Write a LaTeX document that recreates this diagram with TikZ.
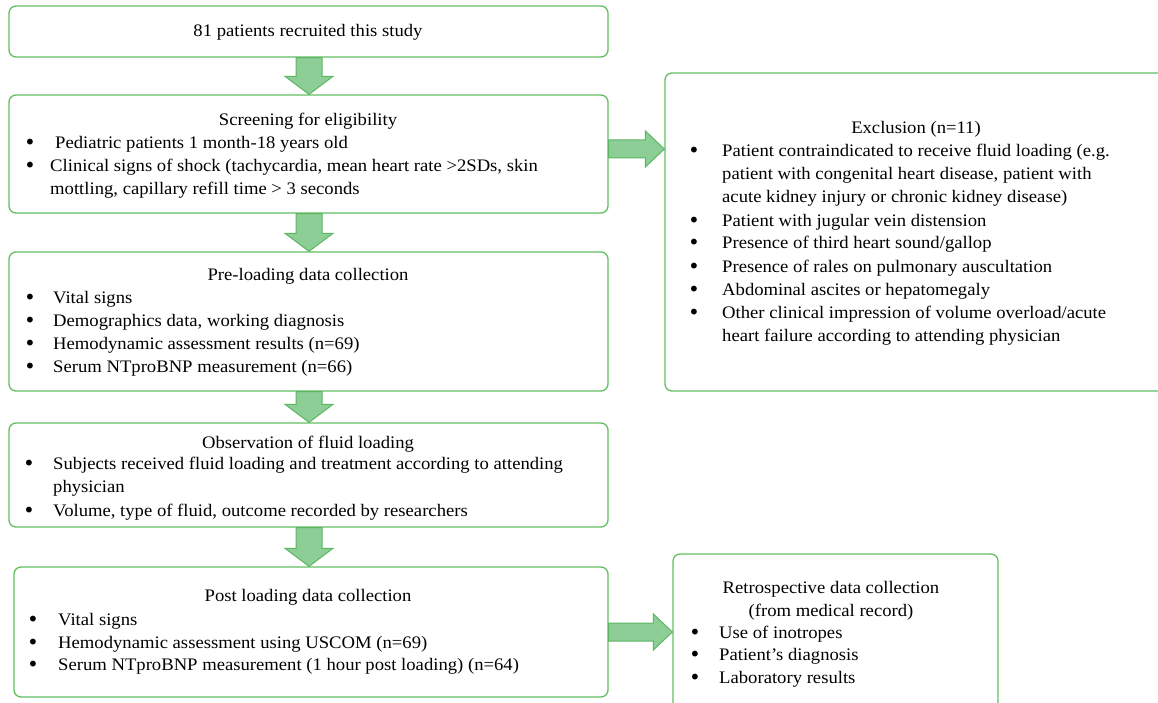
\documentclass[tikz,border=0pt]{standalone}
\usepackage{fontspec}
\setmainfont{Liberation Serif}[FakeStretch=1.06]
\newfontfamily\bulfont{DejaVu Sans}
\usetikzlibrary{calc}
\definecolor{boxgreen}{RGB}{99,190,99}
\definecolor{arrfill}{RGB}{141,205,150}
\definecolor{arrdraw}{RGB}{92,182,98}
\begin{document}
\begin{tikzpicture}[x=1pt,y=-1pt,
  box/.style={draw=boxgreen,line width=1.3pt,rounded corners=7pt,fill=white,inner sep=0pt},
  ln/.style={anchor=north west,inner sep=0pt,align=left,yshift=11.1pt,font=\fontsize{17.6}{23}\selectfont},
  ttl/.style={anchor=north,inner sep=0pt,align=center,yshift=11.1pt,font=\fontsize{17.6}{23}\selectfont},
  bul/.style={anchor=north,inner sep=0pt,yshift=9.8pt,font=\bulfont\fontsize{20}{23}\selectfont},
  barrow/.style={fill=arrfill,draw=arrdraw,line width=1pt,line join=miter}]
\useasboundingbox (0,0) rectangle (1158,703);

% boxes
\node[box,minimum width=599pt,minimum height=51pt] (b1) at (308.5,31.5) {};
\node[box,minimum width=599pt,minimum height=118pt] (b2) at (308.5,154) {};
\node[box,minimum width=599pt,minimum height=139pt] (b3) at (308.5,321.5) {};
\node[box,minimum width=599pt,minimum height=104pt] (b4) at (308.5,475) {};
\node[box,minimum width=594pt,minimum height=130pt] (b5) at (311,632) {};
\node[box,minimum width=502pt,minimum height=318pt] (ex) at (916,232) {};
\node[box,minimum width=325pt,minimum height=160pt] (re) at (835.5,634) {};

% down arrows
\foreach \a/\b in {b1/b2,b2/b3,b3/b4,b4/b5}{
  \draw[barrow] let \p1=(\a.south), \p2=(\b.north) in
    (296pt,\y1) -- (296pt,\y2+18pt) -- (285pt,\y2+18pt) -- (309pt,\y2)
    -- (333pt,\y2+18pt) -- (322pt,\y2+18pt) -- (322pt,\y1) -- cycle;
}
% right arrows
\draw[barrow] let \p1=(b2.east |- 0,149), \p2=(ex.west) in
  (\x1,\y1+9pt) -- (\x2-19pt,\y1+9pt) -- (\x2-19pt,\y1+18pt) -- (\x2,\y1)
  -- (\x2-19pt,\y1-18pt) -- (\x2-19pt,\y1-9pt) -- (\x1,\y1-9pt) -- cycle;
\draw[barrow] let \p1=(b5.east), \p2=(re.west) in
  (\x1,\y1+9pt) -- (\x2-19pt,\y1+9pt) -- (\x2-19pt,\y1+18pt) -- (\x2,\y1)
  -- (\x2-19pt,\y1-18pt) -- (\x2-19pt,\y1-9pt) -- (\x1,\y1-9pt) -- cycle;

% box 1
\node[ttl] (t1) at (308,31) {\strut 81 patients recruited this study};

% box 2
\node[ttl] (t2) at (308,120) {\strut Screening for eligibility};
\node[bul] (u21) at (30,143) {\strut •};
\node[ln] (l21) at (55,143) {\strut Pediatric patients 1 month-18 years old};
\node[bul] (u22) at (30,166) {\strut •};
\node[ln] (l22) at (50,166) {\strut Clinical signs of shock (tachycardia, mean heart rate >2SDs, skin\\\strut mottling, capillary refill time > 3 seconds};

% box 3
\node[ttl] (t3) at (308,275) {\strut Pre-loading data collection};
\node[bul] (u31) at (30,298) {\strut •};
\node[ln] (l31) at (53,298) {\strut Vital signs};
\node[bul] (u32) at (30,321) {\strut •};
\node[ln] (l32) at (53,321) {\strut Demographics data, working diagnosis};
\node[bul] (u33) at (30,344) {\strut •};
\node[ln] (l33) at (53,344) {\strut Hemodynamic assessment results (n=69)};
\node[bul] (u34) at (30,367) {\strut •};
\node[ln] (l34) at (53,367) {\strut Serum NTproBNP measurement (n=66)};

% box 4
\node[ttl] (t4) at (308,443) {\strut Observation of fluid loading};
\node[bul] (u41) at (29,464) {\strut •};
\node[ln] (l41) at (53,464) {\strut Subjects received fluid loading and treatment according to attending\\\strut physician};
\node[bul] (u42) at (29,511) {\strut •};
\node[ln] (l42) at (53,511) {\strut Volume, type of fluid, outcome recorded by researchers};

% box 5
\node[ttl] (t5) at (308,596) {\strut Post loading data collection};
\node[bul] (u51) at (33,620) {\strut •};
\node[ln] (l51) at (58,620) {\strut Vital signs};
\node[bul] (u52) at (33,643) {\strut •};
\node[ln] (l52) at (58,643) {\strut Hemodynamic assessment using USCOM (n=69)};
\node[bul] (u53) at (33,665) {\strut •};
\node[ln] (l53) at (58,665) {\strut Serum NTproBNP measurement (1 hour post loading) (n=64)};

% exclusion
\node[ttl] (te) at (916,128) {\strut Exclusion (n=11)};
\node[bul] (ue1) at (694,151) {\strut •};
\node[ln] (le1) at (722,151) {\strut Patient contraindicated to receive fluid loading (e.g.\\\strut patient with congenital heart disease, patient with\\\strut acute kidney injury or chronic kidney disease)};
\node[bul] (ue2) at (694,221) {\strut •};
\node[ln] (le2) at (722,221) {\strut Patient with jugular vein distension};
\node[bul] (ue3) at (694,243) {\strut •};
\node[ln] (le3) at (722,243) {\strut Presence of third heart sound/gallop};
\node[bul] (ue4) at (694,267) {\strut •};
\node[ln] (le4) at (722,267) {\strut Presence of rales on pulmonary auscultation};
\node[bul] (ue5) at (694,290) {\strut •};
\node[ln] (le5) at (722,290) {\strut Abdominal ascites or hepatomegaly};
\node[bul] (ue6) at (694,313) {\strut •};
\node[ln] (le6) at (722,313) {\strut Other clinical impression of volume overload/acute\\\strut heart failure according to attending physician};

% retrospective
\node[ttl] (tr) at (831,588) {\strut Retrospective data collection\\\strut (from medical record)};
\node[bul] (ur1) at (695,633) {\strut •};
\node[ln] (lr1) at (719,633) {\strut Use of inotropes};
\node[bul] (ur2) at (695,655) {\strut •};
\node[ln] (lr2) at (719,655) {\strut Patient’s diagnosis};
\node[bul] (ur3) at (695,678) {\strut •};
\node[ln] (lr3) at (719,678) {\strut Laboratory results};
\end{tikzpicture}
\end{document}
